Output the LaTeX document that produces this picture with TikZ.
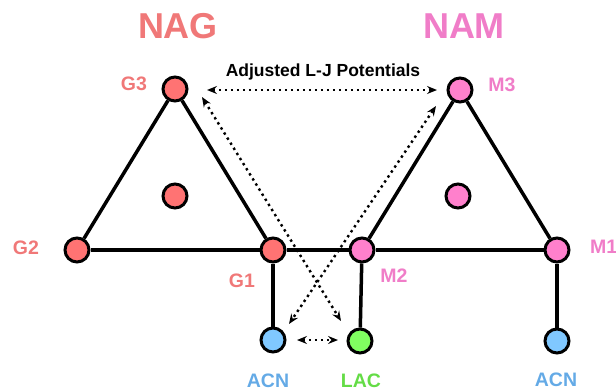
\documentclass[tikz,border=0pt]{standalone}
\usepackage{fontspec}
\setmainfont{Liberation Sans}
\usetikzlibrary{arrows.meta}
\definecolor{gcol}{RGB}{255,115,115}
\definecolor{mcol}{RGB}{255,128,204}
\definecolor{acol}{RGB}{128,200,255}
\definecolor{lcol}{RGB}{128,255,96}
\definecolor{gtxt}{RGB}{240,120,120}
\definecolor{mtxt}{RGB}{240,125,200}
\definecolor{atxt}{RGB}{100,170,230}
\definecolor{ltxt}{RGB}{100,220,70}
\begin{document}
\begin{tikzpicture}[x=1pt,y=-1pt,
  atom/.style={circle, draw=black, line width=3pt, minimum size=24pt, inner sep=0pt},
  bond/.style={line width=3.5pt},
  lj/.style={line width=2.4pt, dash pattern=on 2.4pt off 3.6pt, {Stealth[length=10pt,width=8pt,inset=3.5pt]}-{Stealth[length=10pt,width=8pt,inset=3.5pt]}},
  lbl/.style={font=\fontsize{19.5}{19.5}\selectfont\bfseries, inner sep=0pt},
  title/.style={font=\fontsize{36}{36}\selectfont\bfseries, inner sep=0pt}]
\useasboundingbox (0,0) rectangle (616,391);
% atoms
\node[atom, fill=gcol] (G3) at (175,89) {};
\node[atom, fill=gcol] (GC) at (175,196) {};
\node[atom, fill=gcol] (G2) at (77,250) {};
\node[atom, fill=gcol] (G1) at (273,250) {};
\node[atom, fill=acol] (A1) at (273,340) {};
\node[atom, fill=mcol] (M3) at (460,90) {};
\node[atom, fill=mcol] (MC) at (458,196) {};
\node[atom, fill=mcol] (M2) at (362,250) {};
\node[atom, fill=mcol] (M1) at (557,250) {};
\node[atom, fill=lcol] (L) at (360,341) {};
\node[atom, fill=acol] (A2) at (557,341) {};
% bonds
\draw[bond] (G3) -- (G2);
\draw[bond] (G3) -- (G1);
\draw[bond] (G2) -- (G1);
\draw[bond] (G1) -- (M2);
\draw[bond] (G1) -- (A1);
\draw[bond] (M3) -- (M2);
\draw[bond] (M3) -- (M1);
\draw[bond] (M2) -- (M1);
\draw[bond] (M2) -- (L);
\draw[bond] (M1) -- (A2);
% arrow end points
\coordinate (hG) at (207,90);
\coordinate (hM) at (437,90);
\coordinate (dG) at (202,97);
\coordinate (dL) at (341,321);
\coordinate (dM) at (436,106);
\coordinate (dA) at (289,324);
\coordinate (sA) at (297,340);
\coordinate (sL) at (338,340);
% L-J arrows
\draw[lj] (hG) -- (hM);
\draw[lj] (dG) -- (dL);
\draw[lj] (dM) -- (dA);
\draw[lj] (sA) -- (sL);
% labels
\node[title, text=gtxt] (tNAG) at (178,26) {NAG};
\node[title, text=mtxt] (tNAM) at (464,26) {NAM};
\node[font=\fontsize{17.5}{17.5}\selectfont\bfseries, inner sep=0pt] (tLJ) at (323,72) {Adjusted L-J Potentials};
\node[lbl, text=gtxt] (lG3) at (134,84) {G3};
\node[lbl, text=gtxt] (lG2) at (26,248) {G2};
\node[lbl, text=gtxt] (lG1) at (242,281) {G1};
\node[lbl, text=mtxt] (lM3) at (502,85) {M3};
\node[lbl, text=mtxt] (lM2) at (394,276) {M2};
\node[lbl, text=mtxt, anchor=west] (lM1) at (590,247) {M1};
\node[lbl, text=atxt] (lA1) at (268,381) {ACN};
\node[lbl, text=ltxt] (lL) at (361,381) {LAC};
\node[lbl, text=atxt] (lA2) at (556,380) {ACN};
\end{tikzpicture}
\end{document}
